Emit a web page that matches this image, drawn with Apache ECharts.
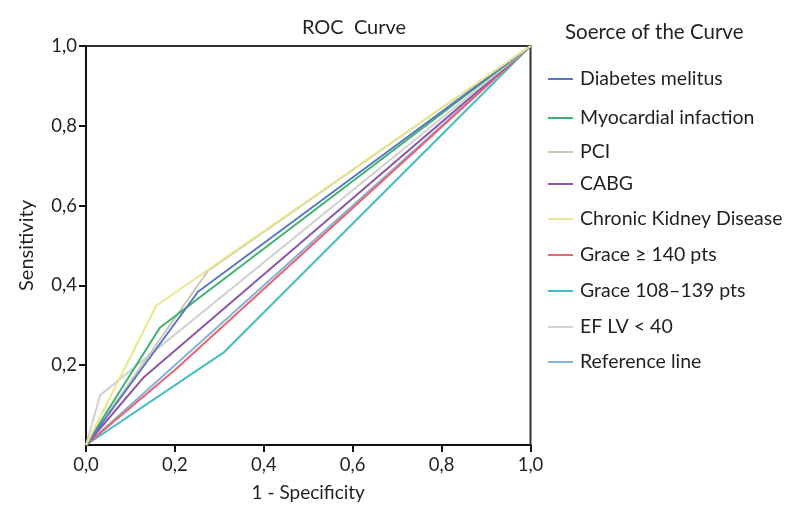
<!DOCTYPE html>
<html>
<head>
<meta charset="utf-8">
<script src="https://cdn.jsdelivr.net/npm/echarts@6/dist/echarts.min.js"></script>
<style>html,body{margin:0;padding:0;background:#fff}#c{width:796px;height:507px}</style>
</head>
<body>
<div id="c"></div>
<script>
const seriesNames = ['Diabetes melitus','Myocardial infaction','PCI','CABG','Chronic Kidney Disease','Grace \u2265 140 pts','Grace 108\u2013139 pts','EF LV < 40','Reference line'];
const seriesColors = ['#5a78c2','#3db46d','#cbc7b2','#8b55a8','#eae78c','#ea6470','#3fbfc0','#d2d2d2','#86b2da'];
const dmX = [0, 0.252, 1],   dmY = [0, 0.384, 1];
const miX = [0, 0.166, 1],   miY = [0, 0.294, 1];
const pciX = [0, 0.274, 1],  pciY = [0, 0.436, 1];
const cabgX = [0, 0.13, 1],  cabgY = [0, 0.17, 1];
const ckdX = [0, 0.158, 1],  ckdY = [0, 0.349, 1];
const g140X = [0, 0.2, 1],   g140Y = [0, 0.188, 1];
const g108X = [0, 0.31, 1],  g108Y = [0, 0.232, 1];
const efX = [0, 0.032, 1],   efY = [0, 0.125, 1];
const refX = [0, 1],         refY = [0, 1];
const tickLabels = ['0,0','0,2','0,4','0,6','0,8','1,0'];

const xs = [dmX, miX, pciX, cabgX, ckdX, g140X, g108X, efX, refX];
const ys = [dmY, miY, pciY, cabgY, ckdY, g140Y, g108Y, efY, refY];
const drawOrder = [8, 6, 5, 3, 7, 2, 1, 0, 4];

const FONT = 'Lato';
const TXT = '#231f20';
const chart = echarts.init(document.getElementById('c'), null, {renderer: 'canvas'});

const series = drawOrder.map(i => ({
  name: seriesNames[i],
  type: 'line',
  data: xs[i].map((x, k) => [x, ys[i][k]]),
  symbol: 'none',
  lineStyle: {color: seriesColors[i], width: 2},
  itemStyle: {color: seriesColors[i]},
  animation: false,
  z: 2
}));

const legendTops = [64, 103, 137, 169, 204, 240, 276, 312, 347];
const legends = seriesNames.map((n, i) => ({
  data: [n],
  left: 543,
  top: legendTops[i],
  orient: 'vertical',
  icon: 'rect',
  itemWidth: 25,
  itemHeight: 2,
  itemGap: 0,
  selectedMode: false,
  textStyle: {fontFamily: FONT, fontSize: 19.5, color: TXT, padding: [0, 0, 0, 2]}
}));

const fmt = v => tickLabels[Math.round(v / 0.2)];

chart.setOption({
  backgroundColor: '#fff',
  animation: false,
  title: [
    {text: 'ROC  Curve', left: 349, top: 13, textAlign: 'center',
     textStyle: {fontFamily: FONT, fontSize: 20, fontWeight: 'normal', color: TXT}},
    {text: 'Soerce of the Curve', left: 560, top: 17,
     textStyle: {fontFamily: FONT, fontSize: 20.5, fontWeight: 'normal', color: TXT}}
  ],
  legend: legends,
  grid: {left: 86, right: 265.5, top: 46, bottom: 56.5, show: true, borderColor: '#333', borderWidth: 2, backgroundColor: '#fff'},
  xAxis: {
    type: 'value', min: 0, max: 1, interval: 0.2,
    name: '1 - Specificity', nameLocation: 'middle', nameGap: 38,
    nameTextStyle: {fontFamily: FONT, fontSize: 19, color: TXT},
    axisLine: {show: true, onZero: false, lineStyle: {color: '#111', width: 2}},
    axisTick: {show: true, length: 7, lineStyle: {color: '#111', width: 2}},
    axisLabel: {formatter: fmt, fontFamily: FONT, fontSize: 18.5, color: TXT, margin: 11},
    splitLine: {show: false}
  },
  yAxis: {
    type: 'value', min: 0, max: 1, interval: 0.2,
    name: 'Sensitivity', nameLocation: 'middle', nameGap: 49, nameRotate: 90,
    nameTextStyle: {fontFamily: FONT, fontSize: 20, color: TXT},
    axisLine: {show: true, onZero: false, lineStyle: {color: '#111', width: 2}},
    axisTick: {show: true, length: 7, lineStyle: {color: '#111', width: 2}},
    axisLabel: {formatter: fmt, showMinLabel: false, fontFamily: FONT, fontSize: 18.5, color: TXT, margin: 9},
    splitLine: {show: false}
  },
  series: series
});
</script>
</body>
</html>
